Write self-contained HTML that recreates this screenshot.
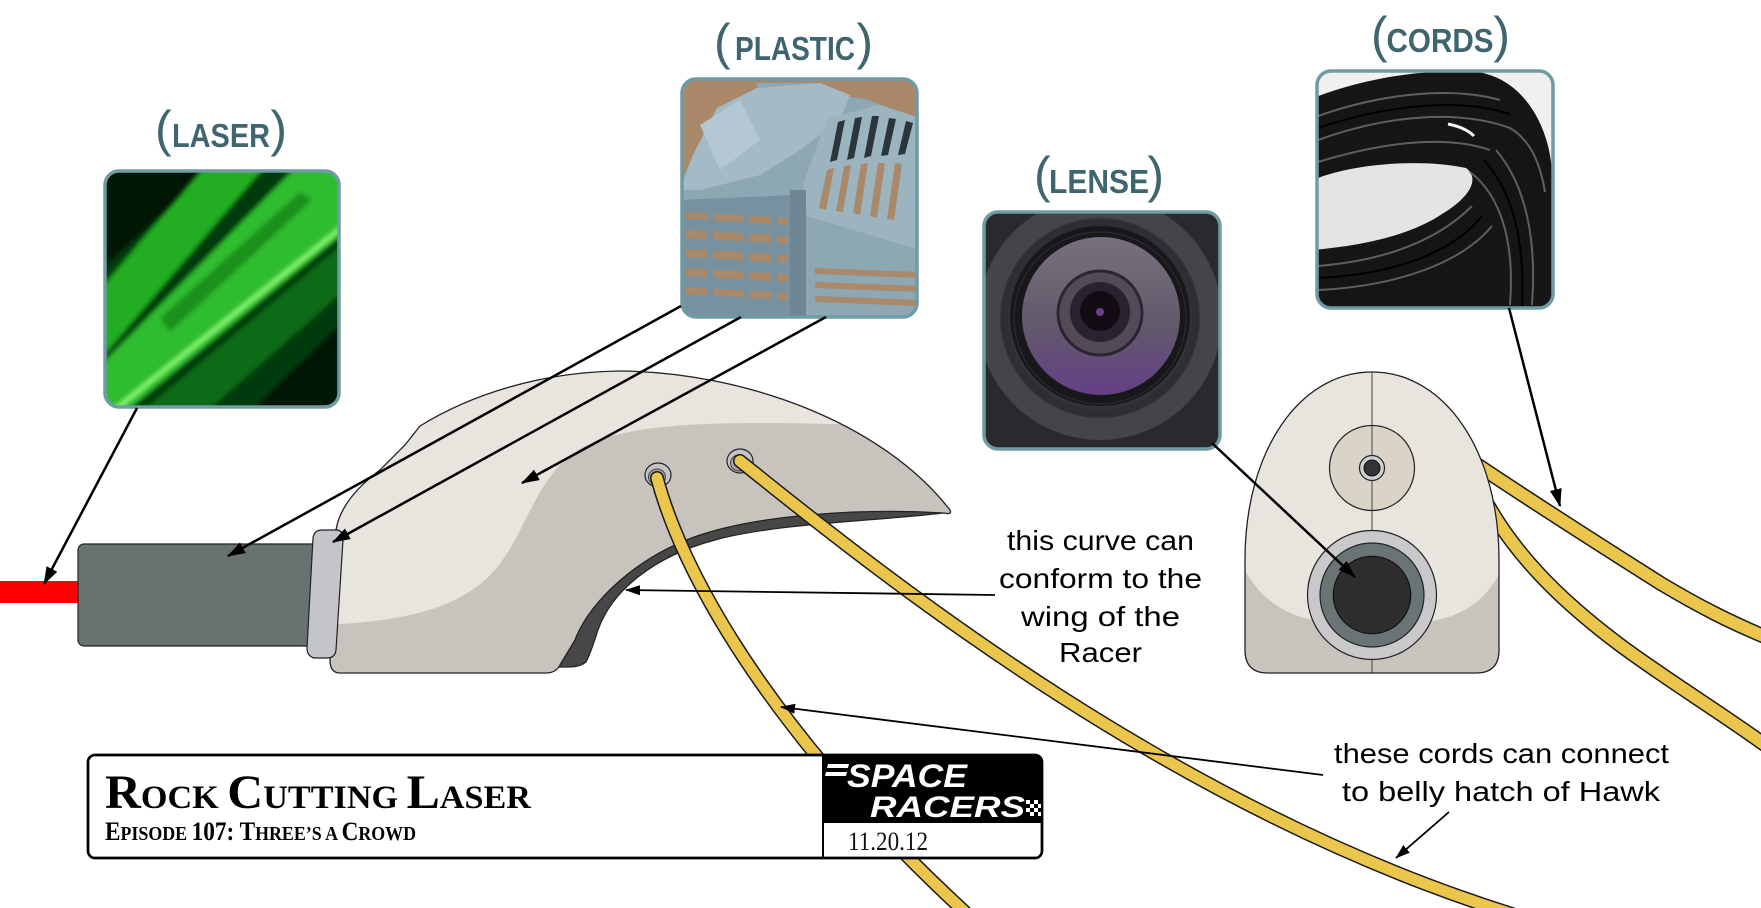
<!DOCTYPE html>
<html><head><meta charset="utf-8"><style>
html,body{margin:0;padding:0;background:#fff;}
svg{display:block;}
</style></head><body>
<svg width="1761" height="908" viewBox="0 0 1761 908" xmlns="http://www.w3.org/2000/svg">
<defs>
 <marker id="ah" viewBox="0 0 18 12" refX="17" refY="6" markerWidth="18" markerHeight="12" markerUnits="userSpaceOnUse" orient="auto"><path d="M0,0 L18,6 L0,12 z" fill="#000"/></marker>
 <marker id="ah2" viewBox="0 0 15 10" refX="14" refY="5" markerWidth="15" markerHeight="10" markerUnits="userSpaceOnUse" orient="auto"><path d="M0,0 L15,5 L0,10 z" fill="#000"/></marker>
 <clipPath id="cL"><rect x="105" y="171" width="234" height="236" rx="14"/></clipPath>
 <clipPath id="cP"><rect x="682" y="79" width="235" height="238" rx="14"/></clipPath>
 <clipPath id="cLe"><rect x="984" y="212" width="236" height="237" rx="14"/></clipPath>
 <clipPath id="cC"><rect x="1317" y="71" width="236" height="237" rx="14"/></clipPath>
 <clipPath id="cBody"><path d="M330 660 L336 530 C340 505 360 485 380 470 L405 445 L420 426 C470 395 540 372 620 371 C740 372 880 420 950 510 C952 514 948 514 944 513 C860 508 760 515 700 535 C640 555 590 600 575 640 L560 665 Q556 673 546 673 L340 673 Q330 673 330 660 Z"/></clipPath>
 <clipPath id="cEgg"><path d="M1245 560 C1245 450 1300 372 1372 372 C1444 372 1499 450 1499 560 L1499 650 Q1499 673 1476 673 L1268 673 Q1245 673 1245 650 Z"/></clipPath>
 <filter id="blur" x="-10%" y="-10%" width="120%" height="120%"><feGaussianBlur stdDeviation="2.5"/></filter>
 <linearGradient id="glass" x1="0" y1="0" x2="0" y2="1">
  <stop offset="0" stop-color="#77707c"/><stop offset="0.55" stop-color="#625a6b"/><stop offset="1" stop-color="#653f85"/>
 </linearGradient>
</defs>

<rect width="1761" height="908" fill="#fff"/>

<!-- side view -->
<rect x="0" y="581" width="80" height="22" fill="#ff0000"/>
<rect x="78" y="544" width="240" height="102" rx="6" fill="#687271" stroke="#222" stroke-width="1.2"/>

<path d="M950 512 C900 520 780 522 715 540 C655 556 612 590 598 630 Q590 655 586 662 Q580 667 568 667 L556 667 L575 620 L650 540 L800 505 Z" fill="#474747" stroke="#222" stroke-width="1.2"/>
<path d="M330 660 L336 530 C340 505 360 485 380 470 L405 445 L420 426 C470 395 540 372 620 371 C740 372 880 420 950 510 C952 514 948 514 944 513 C860 508 760 515 700 535 C640 555 590 600 575 640 L560 665 Q556 673 546 673 L340 673 Q330 673 330 660 Z" fill="#e8e4de"/>
<g clip-path="url(#cBody)">
 <path d="M320 625 C400 622 460 610 495 570 C525 535 535 480 575 452 C610 428 680 423 760 423 C820 423 870 425 960 430 L960 700 L320 700 Z" fill="#c8c4bd"/>
</g>
<path d="M330 660 L336 530 C340 505 360 485 380 470 L405 445 L420 426 C470 395 540 372 620 371 C740 372 880 420 950 510 C952 514 948 514 944 513 C860 508 760 515 700 535 C640 555 590 600 575 640 L560 665 Q556 673 546 673 L340 673 Q330 673 330 660 Z" fill="none" stroke="#222" stroke-width="1.3"/>

<ellipse cx="658" cy="475" rx="13" ry="12" fill="#c4c4c7" stroke="#222" stroke-width="1.2"/>
<ellipse cx="657" cy="477" rx="8.5" ry="8" fill="#a5a5a9" stroke="#444" stroke-width="1"/>
<ellipse cx="740" cy="461" rx="13" ry="12" fill="#c4c4c7" stroke="#222" stroke-width="1.2"/>
<ellipse cx="739" cy="463" rx="8.5" ry="8" fill="#a5a5a9" stroke="#444" stroke-width="1"/>

<path d="M322 530 L338 530 Q344 532 343 540 L336 650 Q335 658 327 658 L314 658 Q307 656 307 648 L313 538 Q314 530 322 530 Z" fill="#c4c5c8" stroke="#222" stroke-width="1.2"/>

<!-- cords -->
<g fill="none" stroke-linecap="round">
 <path d="M657 478 C690 600 800 760 965 912" stroke="#1a1a1a" stroke-width="14"/>
 <path d="M657 478 C690 600 800 760 965 912" stroke="#ebc64d" stroke-width="11"/>
 <path d="M740 461 C900 590 1180 810 1512 914" stroke="#1a1a1a" stroke-width="14"/>
 <path d="M740 461 C900 590 1180 810 1512 914" stroke="#ebc64d" stroke-width="11"/>
 <path d="M1470 460 C1525 497 1600 545 1660 583 C1700 607 1730 622 1768 638" stroke="#1a1a1a" stroke-width="15"/>
 <path d="M1470 460 C1525 497 1600 545 1660 583 C1700 607 1730 622 1768 638" stroke="#ebc64d" stroke-width="12"/>
 <path d="M1485 500 C1515 555 1560 600 1620 645 C1670 682 1720 712 1768 747" stroke="#1a1a1a" stroke-width="15"/>
 <path d="M1485 500 C1515 555 1560 600 1620 645 C1670 682 1720 712 1768 747" stroke="#ebc64d" stroke-width="12"/>
</g>

<!-- front view egg -->
<path d="M1245 560 C1245 450 1300 372 1372 372 C1444 372 1499 450 1499 560 L1499 650 Q1499 673 1476 673 L1268 673 Q1245 673 1245 650 Z" fill="#e8e4de"/>
<g clip-path="url(#cEgg)">
 <path d="M1238 555 C1255 600 1290 620 1330 622 L1420 622 C1460 620 1490 600 1506 560 L1506 680 L1238 680 Z" fill="#c8c4bd"/>
</g>
<line x1="1372" y1="372" x2="1372" y2="673" stroke="#444" stroke-width="1"/>
<path d="M1245 560 C1245 450 1300 372 1372 372 C1444 372 1499 450 1499 560 L1499 650 Q1499 673 1476 673 L1268 673 Q1245 673 1245 650 Z" fill="none" stroke="#222" stroke-width="1.3"/>
<circle cx="1372" cy="468" r="42.5" fill="#d9d3c8" stroke="#222" stroke-width="1.2"/>
<line x1="1372" y1="426" x2="1372" y2="510" stroke="#444" stroke-width="1"/>
<circle cx="1372" cy="468" r="12.5" fill="#d2d2d4" stroke="#222" stroke-width="1.2"/>
<circle cx="1372" cy="468" r="8" fill="#333" stroke="#111" stroke-width="1"/>
<circle cx="1372" cy="595" r="64.5" fill="#c9c9cb" stroke="#222" stroke-width="1.2"/>
<circle cx="1372" cy="595" r="52" fill="#6a7474" stroke="#222" stroke-width="1.2"/>
<circle cx="1372" cy="595" r="38.7" fill="#2d2d2d" stroke="#111" stroke-width="1.2"/>

<!-- LASER photo -->
<g clip-path="url(#cL)">
 <rect x="100" y="165" width="245" height="248" fill="#021604"/>
 <g filter="url(#blur)">
  <polygon points="100,270 215,165 345,165 345,320 250,413 100,413" fill="#063a0a"/>
  <polygon points="100,290 205,165 266,165 100,360" fill="#22ad22"/>
  <polygon points="100,366 298,165 345,165 345,232 124,413 100,413" fill="#2dbd2d"/>
  <polygon points="160,318 300,192 312,200 170,332" fill="#1c8f1e"/>
  <polygon points="140,413 345,242 345,290 205,413" fill="#0f6a12"/>
  <line x1="112" y1="412" x2="345" y2="225" stroke="#8dff78" stroke-width="4"/>
 </g>
</g>
<rect x="105" y="171" width="234" height="236" rx="14" fill="none" stroke="#6f9ba3" stroke-width="3.5"/>

<!-- PLASTIC photo -->
<g clip-path="url(#cP)">
 <rect x="680" y="75" width="240" height="245" fill="#a9896a"/>
 <polygon points="680,185 693,155 717,108 757,88 757,83 820,83 823,92 870,100 887,108 920,124 920,320 680,320" fill="#8ea7b4"/>
 <polygon points="693,155 717,108 757,88 820,83 850,95 840,120 800,150 760,175 700,190 680,190" fill="#a4bbc7"/>
 <polygon points="700,125 740,100 760,140 720,170" fill="#b3c8d2"/>
 <polygon points="803,185 827,118 880,105 920,118 920,250 807,216" fill="#9cb4c0"/>
 <g fill="#2b363c">
  <polygon points="838,122 845,120 837,160 830,162"/>
  <polygon points="855,118 862,117 854,158 847,160"/>
  <polygon points="872,116 879,116 871,156 864,158"/>
  <polygon points="889,118 896,119 888,155 881,156"/>
  <polygon points="906,121 913,123 905,154 898,155"/>
 </g>
 <g fill="#a9896a">
  <polygon points="827,170 834,168 826,210 819,208"/>
  <polygon points="844,166 851,165 843,212 836,211"/>
  <polygon points="861,164 868,163 860,215 853,213"/>
  <polygon points="878,163 885,163 877,218 870,216"/>
  <polygon points="895,163 902,164 894,220 887,219"/>
 </g>
 <polygon points="680,200 795,195 795,320 680,320" fill="#7891a0"/>
 <g fill="#a9896a">
  <polygon points="685,212 788,218 788,225 685,219"/>
  <polygon points="685,230 788,236 788,244 685,238"/>
  <polygon points="685,249 788,255 788,263 685,257"/>
  <polygon points="685,268 788,274 788,282 685,276"/>
  <polygon points="685,287 788,293 788,300 685,294"/>
 </g>
 <g fill="#7891a0">
  <rect x="708" y="205" width="6" height="110"/>
  <rect x="743" y="205" width="6" height="110"/>
  <rect x="772" y="205" width="6" height="110"/>
 </g>
 <polygon points="790,190 806,190 806,320 790,320" fill="#6f8794"/>
 <polygon points="806,248 920,252 920,320 806,320" fill="#8ea7b4"/>
 <g fill="#a9896a">
  <polygon points="815,268 920,272 920,278 815,274"/>
  <polygon points="815,282 920,286 920,292 815,288"/>
  <polygon points="815,296 920,300 920,306 815,302"/>
 </g>
</g>
<rect x="682" y="79" width="235" height="238" rx="14" fill="none" stroke="#6f9ba3" stroke-width="3.5"/>

<!-- LENSE photo -->
<g clip-path="url(#cLe)">
 <rect x="980" y="208" width="245" height="245" fill="#2a292d"/>
 <circle cx="1100" cy="318" r="122" fill="#454449"/>
 <circle cx="1100" cy="318" r="100" fill="#333236"/>
 <circle cx="1100" cy="316" r="90" fill="#18171a"/>
 <g fill="none" stroke="#2c2b30" stroke-width="1.2">
  <circle cx="1100" cy="318" r="93"/><circle cx="1100" cy="318" r="95.5"/><circle cx="1100" cy="318" r="97.5"/><circle cx="1100" cy="318" r="86"/>
 </g>
 <circle cx="1101" cy="316" r="79" fill="url(#glass)"/>
 <circle cx="1100" cy="313" r="42" fill="#524a59" stroke="#2a2530" stroke-width="3"/>
 <circle cx="1100" cy="312" r="30" fill="#2a2230"/>
 <circle cx="1100" cy="311" r="20" fill="#120d15"/>
 <circle cx="1100" cy="312" r="4" fill="#6a3f86"/>
</g>
<rect x="984" y="212" width="236" height="237" rx="14" fill="none" stroke="#6f9ba3" stroke-width="3.5"/>

<!-- CORDS photo -->
<g clip-path="url(#cC)">
 <rect x="1313" y="67" width="245" height="245" fill="#f0f0f0"/>
 <path d="M1313 98 C1360 80 1420 68 1478 72 C1515 78 1540 110 1549 150 C1555 180 1557 230 1557 312 L1313 312 Z" fill="#151515"/>
 <path d="M1313 180 C1350 164 1420 158 1466 168 C1482 180 1466 200 1442 214 C1418 230 1380 244 1313 250 Z" fill="#e4e4e4"/>
 <path d="M1448 124 C1458 126 1468 130 1474 136" stroke="#f4f4f4" stroke-width="3" fill="none"/>
 <g fill="none" stroke="#5e5e5e" stroke-width="2">
  <path d="M1318 116 C1380 94 1450 86 1500 100"/>
  <path d="M1318 140 C1390 114 1460 110 1510 128 C1530 140 1540 162 1545 192"/>
  <path d="M1318 162 C1390 140 1450 136 1490 150"/>
  <path d="M1318 266 C1390 260 1440 238 1472 206"/>
  <path d="M1318 290 C1400 286 1462 262 1492 226"/>
  <path d="M1470 172 C1500 195 1515 240 1510 305"/>
  <path d="M1496 150 C1530 190 1536 250 1532 305"/>
 </g>
 <g fill="none" stroke="#000" stroke-width="2">
  <path d="M1318 128 C1390 104 1460 98 1510 114"/>
  <path d="M1318 278 C1400 274 1455 250 1482 216"/>
  <path d="M1484 160 C1515 195 1525 245 1522 308"/>
 </g>
</g>
<rect x="1317" y="71" width="236" height="237" rx="14" fill="none" stroke="#6f9ba3" stroke-width="3.5"/>

<!-- labels -->
<g fill="#3e6570" font-family="Liberation Sans, Arial, sans-serif">
 <g font-weight="bold" font-size="33" text-anchor="middle">
  <text x="221" y="147" textLength="98" lengthAdjust="spacingAndGlyphs">LASER</text>
  <text x="795" y="60" textLength="120" lengthAdjust="spacingAndGlyphs">PLASTIC</text>
  <text x="1099" y="193" textLength="100" lengthAdjust="spacingAndGlyphs">LENSE</text>
  <text x="1440" y="52" textLength="107" lengthAdjust="spacingAndGlyphs">CORDS</text>
 </g>
 <g font-size="50">
  <text x="155" y="146">(</text><text x="287" y="146" text-anchor="end">)</text>
  <text x="714" y="59">(</text><text x="873" y="59" text-anchor="end">)</text>
  <text x="1034" y="192">(</text><text x="1164" y="192" text-anchor="end">)</text>
  <text x="1371" y="52">(</text><text x="1510" y="52" text-anchor="end">)</text>
 </g>
</g>

<!-- arrows -->
<g stroke="#000" stroke-width="2.5" fill="none" marker-end="url(#ah)">
 <line x1="137" y1="408" x2="44" y2="584"/>
 <line x1="681" y1="306" x2="228" y2="556"/>
 <line x1="741" y1="317" x2="333" y2="542"/>
 <line x1="826" y1="317" x2="522" y2="483"/>
 <line x1="1212" y1="443" x2="1355" y2="577"/>
 <line x1="1509" y1="308" x2="1560" y2="506"/>
</g>
<g stroke="#000" stroke-width="1.8" fill="none" marker-end="url(#ah2)">
 <line x1="995" y1="595" x2="626" y2="590"/>
 <line x1="1323" y1="775" x2="781" y2="707"/>
 <line x1="1449" y1="812" x2="1396" y2="858"/>
</g>

<!-- annotations -->
<g font-family="Liberation Sans, Arial, sans-serif" font-size="28" fill="#000">
 <text x="1007" y="550" textLength="187" lengthAdjust="spacingAndGlyphs">this curve can</text>
 <text x="999" y="588" textLength="203" lengthAdjust="spacingAndGlyphs">conform to the</text>
 <text x="1021" y="626" textLength="159" lengthAdjust="spacingAndGlyphs">wing of the</text>
 <text x="1059" y="662" textLength="83" lengthAdjust="spacingAndGlyphs">Racer</text>
 <text x="1334" y="763" textLength="335" lengthAdjust="spacingAndGlyphs">these cords can connect</text>
 <text x="1342" y="801" textLength="318" lengthAdjust="spacingAndGlyphs">to belly hatch of Hawk</text>
</g>

<!-- title block -->
<rect x="88" y="755" width="954" height="103" rx="7" fill="#fff" stroke="#000" stroke-width="2.5"/>
<path d="M823 755 L1034 755 Q1042 755 1042 763 L1042 823 L823 823 Z" fill="#000"/>
<line x1="823" y1="755" x2="823" y2="858" stroke="#000" stroke-width="2"/>
<rect x="88" y="755" width="954" height="103" rx="7" fill="none" stroke="#000" stroke-width="2.5"/>

<text x="105" y="808" font-family="Liberation Serif, serif" font-weight="bold" fill="#000" textLength="426" lengthAdjust="spacingAndGlyphs"><tspan font-size="48">R</tspan><tspan font-size="33">OCK </tspan><tspan font-size="48">C</tspan><tspan font-size="33">UTTING </tspan><tspan font-size="48">L</tspan><tspan font-size="33">ASER</tspan></text>
<text x="105" y="840" font-family="Liberation Serif, serif" font-weight="bold" fill="#000" textLength="311" lengthAdjust="spacingAndGlyphs"><tspan font-size="26">E</tspan><tspan font-size="20">PISODE </tspan><tspan font-size="26">107: T</tspan><tspan font-size="20">HREE’S A </tspan><tspan font-size="26">C</tspan><tspan font-size="20">ROWD</tspan></text>

<g fill="#fff">
 <polygon points="828,764 849,764 848,768 827,768"/>
 <polygon points="826,772 847,772 846,776 825,776"/>
 <text x="847" y="787" font-family="Liberation Sans, Arial, sans-serif" font-weight="bold" font-style="italic" font-size="32" textLength="120" lengthAdjust="spacingAndGlyphs">SPACE</text>
 <text x="870" y="817" font-family="Liberation Sans, Arial, sans-serif" font-weight="bold" font-style="italic" font-size="30" textLength="155" lengthAdjust="spacingAndGlyphs">RACERS</text>
 <rect x="1026" y="800" width="4" height="4"/><rect x="1034" y="800" width="4" height="4"/>
 <rect x="1030" y="804" width="4" height="4"/><rect x="1038" y="804" width="3" height="4"/>
 <rect x="1026" y="808" width="4" height="4"/><rect x="1034" y="808" width="4" height="4"/>
 <rect x="1030" y="812" width="4" height="4"/><rect x="1038" y="812" width="3" height="4"/>
</g>
<text x="848" y="850" font-family="Liberation Serif, serif" font-size="26" fill="#111" textLength="80" lengthAdjust="spacingAndGlyphs">11.20.12</text>
</svg>
</body></html>
